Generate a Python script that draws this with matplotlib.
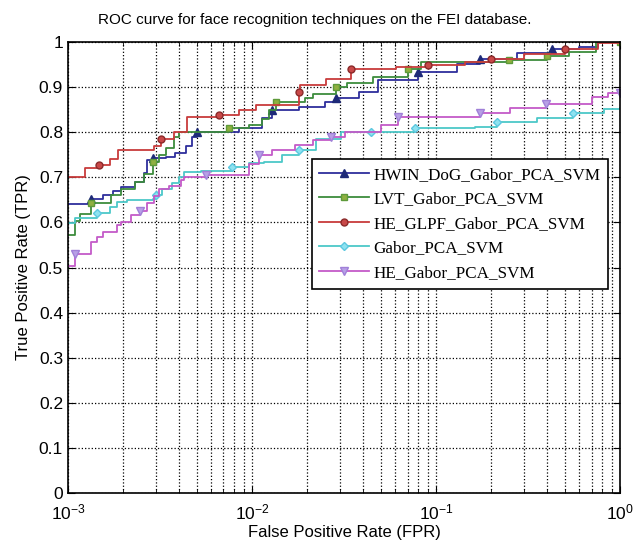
import matplotlib
matplotlib.use('Agg')
import matplotlib.pyplot as plt

plt.rcParams['font.family'] = ['Liberation Sans', 'DejaVu Sans']
plt.rcParams['mathtext.default'] = 'regular'

# HWIN_DoG_Gabor_PCA_SVM
hwin_fpr = [0.001, 0.00134, 0.00155, 0.00175, 0.00195, 0.0023, 0.0026, 0.0027, 0.00288, 0.0034,
            0.0038, 0.0044, 0.0047, 0.005, 0.0085, 0.0113, 0.0128, 0.018, 0.025, 0.0286,
            0.0381, 0.0483, 0.0794, 0.13, 0.174, 0.275, 0.425, 0.6, 0.76, 1.0]
hwin_tpr = [0.64, 0.653, 0.66, 0.67, 0.678, 0.69, 0.71, 0.738, 0.742, 0.745,
            0.755, 0.77, 0.79, 0.80, 0.81, 0.831, 0.849, 0.856, 0.866, 0.876,
            0.89, 0.916, 0.934, 0.952, 0.963, 0.975, 0.984, 0.99, 1.0, 1.0]

# LVT_Gabor_PCA_SVM
lvt_fpr = [0.001, 0.00109, 0.00116, 0.00134, 0.00172, 0.00195, 0.0023, 0.0026, 0.00288, 0.00313,
           0.00342, 0.00378, 0.00402, 0.0075, 0.0096, 0.0113, 0.0123, 0.0135, 0.0195, 0.0215,
           0.0286, 0.033, 0.0454, 0.07, 0.0824, 0.25, 0.4, 0.525, 0.74, 1.0]
lvt_tpr = [0.573, 0.603, 0.618, 0.644, 0.66, 0.673, 0.69, 0.707, 0.734, 0.749,
           0.766, 0.79, 0.80, 0.81, 0.816, 0.83, 0.85, 0.866, 0.876, 0.884,
           0.90, 0.91, 0.922, 0.94, 0.956, 0.96, 0.97, 0.978, 1.0, 1.0]

# HE_GLPF_Gabor_PCA_SVM
glpf_fpr = [0.001, 0.00124, 0.00147, 0.00169, 0.00188, 0.00295, 0.0032, 0.00378, 0.00444, 0.0066,
            0.0085, 0.0105, 0.0179, 0.0183, 0.0253, 0.0345, 0.0604, 0.09, 0.144, 0.2,
            0.30, 0.5, 0.76, 1.0]
glpf_tpr = [0.70, 0.72, 0.728, 0.74, 0.76, 0.77, 0.785, 0.80, 0.834, 0.838,
            0.85, 0.86, 0.89, 0.904, 0.919, 0.94, 0.944, 0.95, 0.956, 0.962,
            0.973, 0.985, 0.998, 1.0]

# Gabor_PCA_SVM
gabor_fpr = [0.001, 0.00109, 0.00143, 0.00169, 0.00184, 0.00208, 0.00288, 0.00302, 0.00326, 0.00369,
             0.00402, 0.00428, 0.00529, 0.00777, 0.0096, 0.0116, 0.0145, 0.0179, 0.0223, 0.0305,
             0.0442, 0.0765, 0.163, 0.214, 0.352, 0.558, 0.82, 1.0]
gabor_tpr = [0.598, 0.61, 0.62, 0.634, 0.645, 0.649, 0.652, 0.66, 0.675, 0.688,
             0.70, 0.712, 0.715, 0.723, 0.731, 0.733, 0.75, 0.76, 0.784, 0.80,
             0.80, 0.809, 0.812, 0.823, 0.831, 0.842, 0.851, 0.853]

# HE_Gabor_PCA_SVM
heg_fpr = [0.001, 0.00109, 0.00134, 0.00143, 0.00155, 0.00184, 0.00195, 0.00219, 0.00245, 0.0027,
           0.00295, 0.00313, 0.00355, 0.00412, 0.00428, 0.00562, 0.0096, 0.0109, 0.0128, 0.0172,
           0.0215, 0.0269, 0.032, 0.0501, 0.0619, 0.174, 0.252, 0.394, 0.70, 0.86, 1.0]
heg_tpr = [0.504, 0.53, 0.557, 0.568, 0.579, 0.594, 0.602, 0.617, 0.625, 0.644,
           0.658, 0.673, 0.68, 0.695, 0.70, 0.705, 0.729, 0.749, 0.76, 0.771,
           0.782, 0.789, 0.80, 0.816, 0.833, 0.843, 0.853, 0.862, 0.879, 0.888, 0.888]

fig = plt.figure(figsize=(6.33, 5.45), dpi=100)
ax = fig.add_axes([0.1074, 0.0954, 0.8721, 0.8275])

ax.plot(hwin_fpr, hwin_tpr, drawstyle='steps-post', color='#2e2e9c', lw=1.3,
        marker='^', ms=5.5, mfc='#1e2a78', mec='#1e2a78', markevery=(0.04, 0.1),
        label='HWIN_DoG_Gabor_PCA_SVM')
ax.plot(lvt_fpr, lvt_tpr, drawstyle='steps-post', color='#3d8c3d', lw=1.3,
        marker='s', ms=5, mfc='#8fb040', mec='#5e9a3a', markevery=(0.06, 0.1),
        label='LVT_Gabor_PCA_SVM')
ax.plot(glpf_fpr, glpf_tpr, drawstyle='steps-post', color='#c83c3c', lw=1.3,
        marker='o', ms=5, mfc='#c84848', mec='#8a2a2a', markevery=(0.04, 0.1),
        label='HE_GLPF_Gabor_PCA_SVM')
ax.plot(gabor_fpr, gabor_tpr, drawstyle='steps-post', color='#4cc8c8', lw=1.3,
        marker='D', ms=4, mfc='#8ee2f0', mec='#5cc8e0', markevery=(0.04, 0.1),
        label='Gabor_PCA_SVM')
ax.plot(heg_fpr, heg_tpr, drawstyle='steps-post', color='#c45ac8', lw=1.3,
        marker='v', ms=5.5, mfc='#b8a0e6', mec='#a080d8', markevery=(0.03, 0.1),
        label='HE_Gabor_PCA_SVM')

ax.set_xscale('log')
ax.set_xlim(0.001, 1)
ax.set_ylim(0, 1)
ax.set_yticks([i / 10 for i in range(11)])
ax.set_yticklabels(['0', '0.1', '0.2', '0.3', '0.4', '0.5', '0.6', '0.7', '0.8', '0.9', '1'])
ax.grid(True, which='major', linestyle=':', color='black', lw=0.9)
ax.grid(True, which='minor', axis='x', linestyle=':', color='black', lw=0.9)
ax.tick_params(which='both', direction='in', top=True, right=True, labelsize=12.5)
ax.tick_params(which='major', length=5)
ax.tick_params(which='minor', length=3)
ax.tick_params(axis='x', pad=7)
for s in ax.spines.values():
    s.set_linewidth(1.2)

ax.set_xlabel('False Positive Rate (FPR)', fontsize=12, labelpad=2)
ax.set_ylabel('True Positive Rate (TPR)', fontsize=12, labelpad=6)
ax.set_title('ROC curve for face recognition techniques on the FEI database.', fontsize=11,
             pad=13, x=0.446)

leg = ax.legend(loc='upper right', bbox_to_anchor=(0.978, 0.7406), borderaxespad=0,
                prop={'family': 'Liberation Serif', 'size': 12.3}, fancybox=False,
                edgecolor='black', framealpha=1, handlelength=2.9, handletextpad=0.25,
                labelspacing=0.5, borderpad=0.45)
leg.get_frame().set_linewidth(1.2)

fig.savefig('out.png', dpi=100)
